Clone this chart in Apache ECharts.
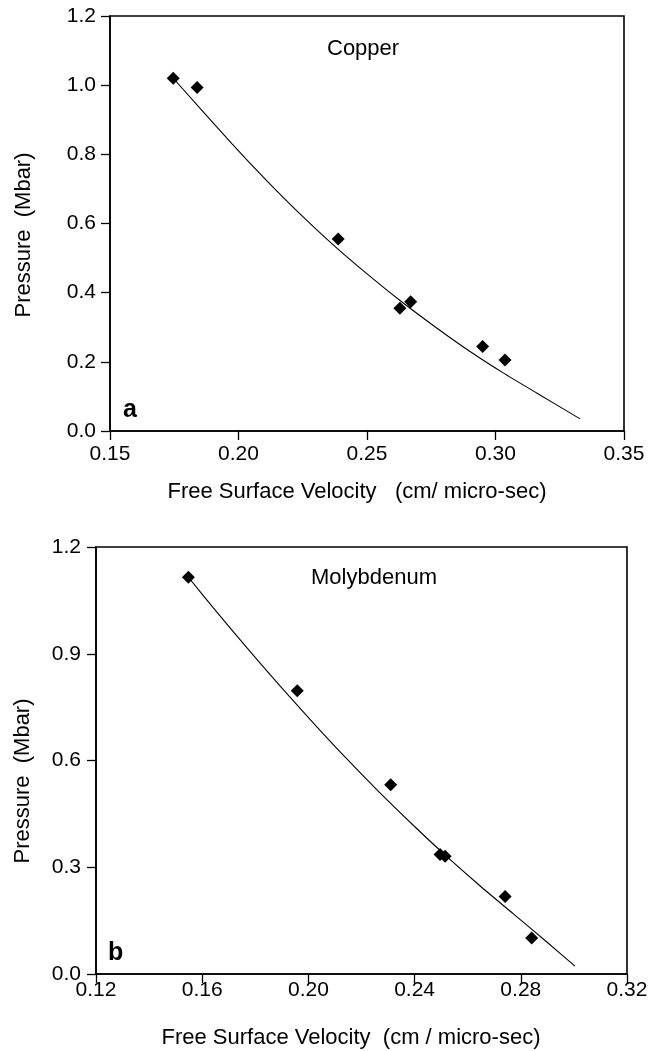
<!DOCTYPE html>
<html>
<head>
<meta charset="utf-8">
<script src="https://cdn.jsdelivr.net/npm/echarts@6/dist/echarts.min.js"></script>
<style>
html,body{margin:0;padding:0;background:#fff;}
#chart{width:659px;height:1051px;}
</style>
</head>
<body>
<div id="chart"></div>
<script>
// ---- Panel a: Copper ----
var copperVelocity = [0.1746, 0.1839, 0.2388, 0.2628, 0.2670, 0.2950, 0.3037];
var copperPressure = [1.020, 0.993, 0.555, 0.355, 0.374, 0.244, 0.205];
var copperFitVelocity = [0.1746, 0.1974, 0.2103, 0.2233, 0.2363, 0.2512, 0.2641, 0.2771, 0.2901, 0.3030, 0.3160, 0.3329];
var copperFitPressure = [1.020, 0.831, 0.729, 0.632, 0.542, 0.447, 0.370, 0.298, 0.230, 0.168, 0.110, 0.035];
var copperXTicks = [0.15, 0.20, 0.25, 0.30, 0.35];
var copperYTicks = [0.0, 0.2, 0.4, 0.6, 0.8, 1.0, 1.2];

// ---- Panel b: Molybdenum ----
var molyVelocity = [0.1548, 0.1958, 0.2310, 0.2496, 0.2515, 0.2741, 0.2841];
var molyPressure = [1.115, 0.796, 0.532, 0.336, 0.331, 0.218, 0.101];
var molyFitVelocity = [0.1548, 0.1642, 0.1768, 0.1893, 0.2018, 0.2144, 0.2263, 0.2395, 0.2508, 0.2646, 0.2772, 0.2898, 0.3004];
var molyFitPressure = [1.115, 1.029, 0.917, 0.810, 0.706, 0.605, 0.514, 0.418, 0.339, 0.248, 0.169, 0.090, 0.022];
var molyXTicks = [0.12, 0.16, 0.20, 0.24, 0.28, 0.32];
var molyYTicks = [0.0, 0.3, 0.6, 0.9, 1.2];

var FONT = '"Liberation Sans", Arial, Helvetica, sans-serif';

function zip(a, b) { return a.map(function (v, i) { return [v, b[i]]; }); }

function axisFor(ticks, gridIndex, dec, margin) {
  return {
    type: 'value', gridIndex: gridIndex,
    min: ticks[0], max: ticks[ticks.length - 1], interval: ticks[1] - ticks[0],
    splitLine: { show: false },
    axisLine: { show: true, onZero: false, lineStyle: { color: '#000', width: 1.6 } },
    axisTick: { show: true, inside: false, length: 9, lineStyle: { color: '#000', width: 1.3 } },
    axisLabel: { show: true, margin: margin, color: '#000', fontSize: 21, fontFamily: FONT,
      showMinLabel: true, showMaxLabel: true,
      formatter: function (v) { return v.toFixed(dec); } }
  };
}

var chart = echarts.init(document.getElementById('chart'), null, { renderer: 'canvas' });

var option = {
  backgroundColor: '#fff',
  animation: false,
  grid: [
    { left: 110, top: 16, width: 514, height: 415, show: true, borderColor: '#000', borderWidth: 1.6, backgroundColor: 'transparent' },
    { left: 96, top: 547, width: 531, height: 427, show: true, borderColor: '#000', borderWidth: 1.6, backgroundColor: 'transparent' }
  ],
  xAxis: [
    axisFor(copperXTicks, 0, 2, 13),
    axisFor(molyXTicks, 1, 2, 6)
  ],
  yAxis: [
    axisFor(copperYTicks, 0, 1, 14),
    axisFor(molyYTicks, 1, 1, 15)
  ],
  series: [
    { type: 'line', xAxisIndex: 0, yAxisIndex: 0, data: zip(copperFitVelocity, copperFitPressure),
      smooth: 0.25, showSymbol: false, symbol: 'none', lineStyle: { color: '#000', width: 1.1 }, z: 2 },
    { type: 'scatter', xAxisIndex: 0, yAxisIndex: 0, data: zip(copperVelocity, copperPressure),
      symbol: 'diamond', symbolSize: 13, itemStyle: { color: '#000', opacity: 1 }, z: 3 },
    { type: 'line', xAxisIndex: 1, yAxisIndex: 1, data: zip(molyFitVelocity, molyFitPressure),
      smooth: 0.25, showSymbol: false, symbol: 'none', lineStyle: { color: '#000', width: 1.1 }, z: 2 },
    { type: 'scatter', xAxisIndex: 1, yAxisIndex: 1, data: zip(molyVelocity, molyPressure),
      symbol: 'diamond', symbolSize: 13, itemStyle: { color: '#000', opacity: 1 }, z: 3 }
  ],
  graphic: [
    { type: 'text', left: 327, top: 38, style: { text: 'Copper', font: '22px ' + FONT, fill: '#000' } },
    { type: 'text', left: 311, top: 567, style: { text: 'Molybdenum', font: '22px ' + FONT, fill: '#000' } },
    { type: 'text', left: 123, top: 398, style: { text: 'a', font: 'bold 25px ' + FONT, fill: '#000' } },
    { type: 'text', left: 108, top: 941, style: { text: 'b', font: 'bold 25px ' + FONT, fill: '#000' } },
    { type: 'text', x: 24, y: 235, rotation: Math.PI / 2,
      style: { text: 'Pressure  (Mbar)', font: '22px ' + FONT, fill: '#000', textAlign: 'center', textVerticalAlign: 'middle' } },
    { type: 'text', x: 23, y: 781, rotation: Math.PI / 2,
      style: { text: 'Pressure  (Mbar)', font: '22px ' + FONT, fill: '#000', textAlign: 'center', textVerticalAlign: 'middle' } },
    { type: 'text', x: 357, y: 492,
      style: { text: 'Free Surface Velocity   (cm/ micro-sec)', font: '22px ' + FONT, fill: '#000', textAlign: 'center', textVerticalAlign: 'middle' } },
    { type: 'text', x: 351, y: 1038,
      style: { text: 'Free Surface Velocity  (cm / micro-sec)', font: '22px ' + FONT, fill: '#000', textAlign: 'center', textVerticalAlign: 'middle' } }
  ]
};
chart.setOption(option);
</script>
</body>
</html>
